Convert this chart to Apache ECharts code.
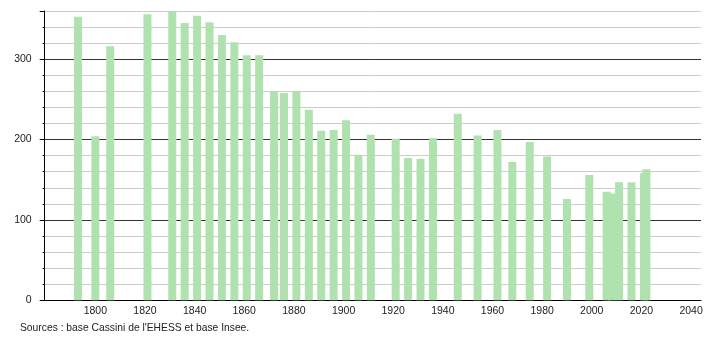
<!DOCTYPE html>
<html>
<head>
<meta charset="utf-8">
<script src="https://cdn.jsdelivr.net/npm/echarts@6/dist/echarts.min.js"></script>
<style>
html,body{margin:0;padding:0;background:#fff;}
#c{width:710px;height:340px;}
</style>
</head>
<body>
<div id="c"></div>
<script>
const years = [1793,1800,1806,1821,1831,1836,1841,1846,1851,1856,1861,1866,1872,1876,1881,1886,1891,1896,1901,1906,1911,1921,1926,1931,1936,1946,1954,1962,1968,1975,1982,1990,1999,2006,2008,2011,2016,2021,2022];
const population = [353,204,316,356,359,345,354,346,330,321,305,305,260,258,260,237,211,212,224,181,206,201,177,176,202,232,205,212,172,197,179,126,156,135,133,147,147,158,163];
const xTickLabels = [1800,1820,1840,1860,1880,1900,1920,1940,1960,1980,2000,2020,2040];
const yTickLabels = [0,100,200,300];
const sourceText = "Sources : base Cassini de l'EHESS et base Insee.";

const FONT = '"Liberation Sans", Arial, sans-serif';
const chart = echarts.init(document.getElementById('c'), null, {renderer:'canvas'});
chart.setOption({
  animation:false,
  backgroundColor:'#fff',
  grid:{left:44.7, right:9, top:11, bottom:39.7, containLabel:false},
  graphic:[{type:'text', left:20, top:323, style:{text:sourceText, font:'10.3px '+FONT, fill:'#222'}}],
  xAxis:{
    type:'value', min:1779.6, max:2044,
    axisLine:{show:true, onZero:false, lineStyle:{color:'#000', width:1}},
    axisTick:{show:false},
    splitLine:{show:false},
    axisLabel:{customValues:xTickLabels, formatter:v=>String(v), color:'#222', fontFamily:FONT, fontSize:10.5, margin:5}
  },
  yAxis:[{
    type:'value', min:0, max:360, interval:20,
    axisLine:{show:true, lineStyle:{color:'#000', width:1}},
    axisTick:{show:true, length:2, lineStyle:{color:'#000'}},
    axisLabel:{show:false},
    splitLine:{show:true, lineStyle:{color:'#ccc', width:1}}
  },{
    type:'value', min:0, max:360, interval:100, position:'left',
    axisLine:{show:false},
    axisTick:{show:true, length:5, lineStyle:{color:'#000'}},
    axisLabel:{customValues:yTickLabels, formatter:v=>String(v), color:'#222', fontFamily:FONT, fontSize:10.5, margin:13},
    splitLine:{show:true, showMaxLine:false, lineStyle:{color:'#333', width:1}}
  }],
  series:[{
    type:'bar',
    data: years.map((y,i)=>[y, population[i]]),
    barWidth:8,
    itemStyle:{color:'#b0e2b0'},
    z:3
  }]
});
</script>
</body>
</html>
